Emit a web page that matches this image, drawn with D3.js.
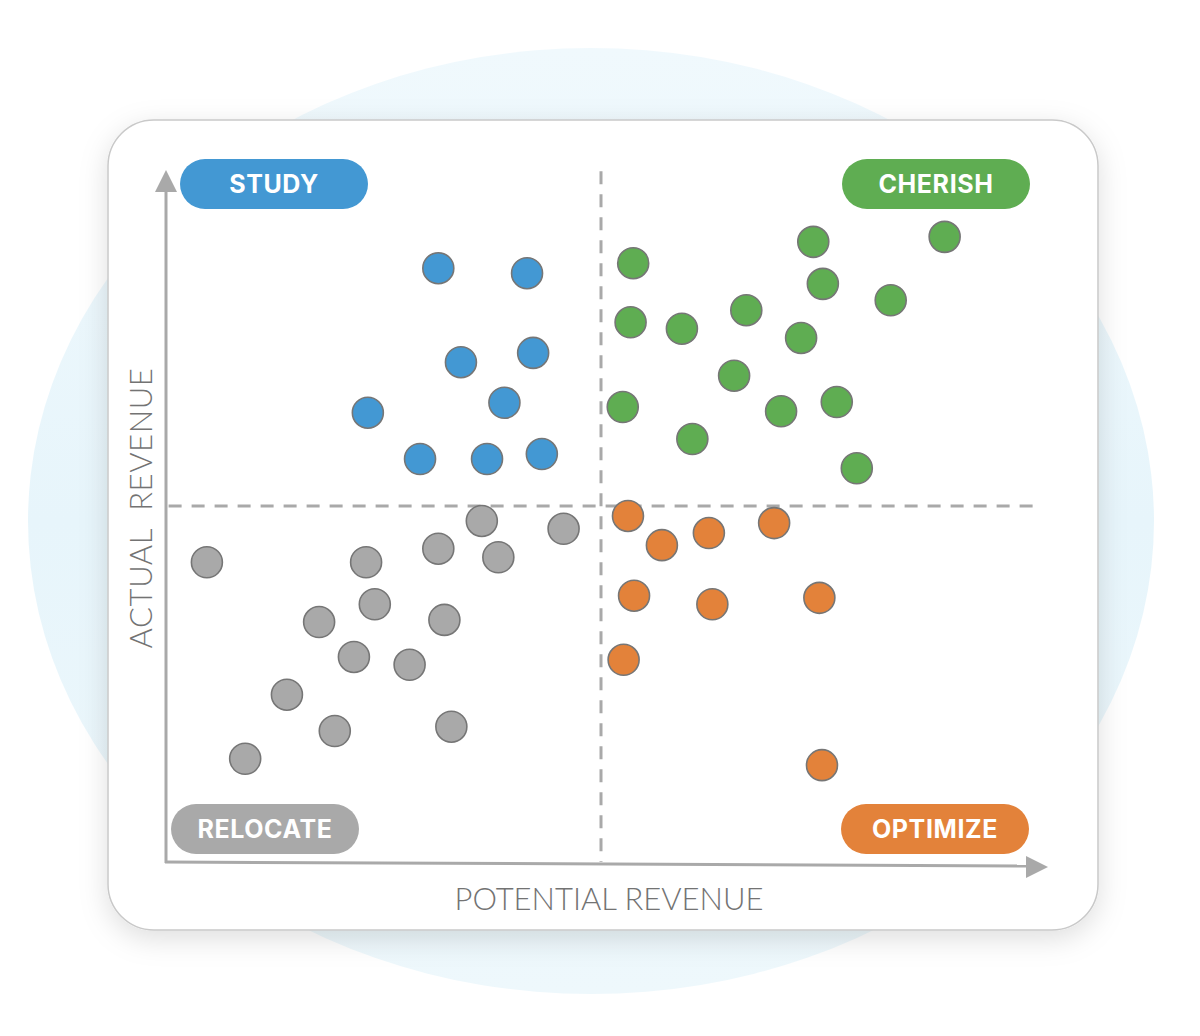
<!DOCTYPE html>
<html>
<head>
<meta charset="utf-8">
<script src="https://cdn.jsdelivr.net/npm/d3@7"></script>
<style>
  body { margin: 0; background: #fff; }
  svg { display: block; }
</style>
</head>
<body>
<div id="chart"></div>
<script>
// quadrant data (0-100 on both axes, 50 = divider)
var studyX   = [31.3, 41.5, 33.9, 42.2, 23.2, 38.9, 29.2, 36.9, 43.2];
var studyY   = [83.4, 82.7, 70.2, 71.5, 63.1, 64.5, 56.6, 56.6, 57.3];
var cherishX = [53.7, 74.4, 89.5, 75.5, 83.3, 53.4, 59.3, 66.7, 73.0, 65.3, 52.5, 70.7, 77.1, 60.5, 79.4];
var cherishY = [84.1, 87.1, 87.8, 81.2, 78.9, 75.8, 74.9, 77.5, 73.6, 68.3, 63.9, 63.3, 64.6, 59.4, 55.3];
var optimizeX = [53.1, 57.0, 62.4, 69.9, 53.8, 62.8, 75.1, 52.6, 75.4];
var optimizeY = [48.6, 44.5, 46.2, 47.6, 37.4, 36.2, 37.1, 28.4, 13.6];
var relocateX = [36.3, 45.7, 4.7, 23.0, 31.3, 38.2, 24.0, 17.6, 32.0, 21.6, 28.0, 13.9, 19.4, 32.8, 9.1];
var relocateY = [47.9, 46.8, 42.1, 42.1, 44.0, 42.8, 36.2, 33.7, 34.0, 28.8, 27.7, 23.5, 18.4, 19.0, 14.5];

var groups = ["STUDY", "CHERISH", "RELOCATE", "OPTIMIZE"];
var groupColors = ["#4398d3", "#5fad52", "#a9a9a9", "#e3823a"];
var xTitle = "POTENTIAL REVENUE";
var yTitle = "ACTUAL  REVENUE";

var width = 1200, height = 1036;

var svg = d3.select("#chart")
    .append("svg")
    .attr("width", width)
    .attr("height", height);

var defs = svg.append("defs");
var shadow = defs.append("filter").attr("id", "shadow")
    .attr("x", "-10%").attr("y", "-10%").attr("width", "120%").attr("height", "125%");
shadow.append("feDropShadow")
    .attr("dx", 0).attr("dy", 8)
    .attr("stdDeviation", 14)
    .attr("flood-color", "#000")
    .attr("flood-opacity", 0.13);

var bgGrad = defs.append("linearGradient").attr("id", "bgGrad")
    .attr("x1", 0).attr("y1", 0).attr("x2", 0).attr("y2", 1);
bgGrad.append("stop").attr("offset", "0%").attr("stop-color", "#f0f9fd");
bgGrad.append("stop").attr("offset", "50%").attr("stop-color", "#e7f5fb");
bgGrad.append("stop").attr("offset", "100%").attr("stop-color", "#eef8fc");

// background blob
svg.append("ellipse")
    .attr("cx", 591).attr("cy", 521)
    .attr("rx", 563).attr("ry", 473)
    .attr("fill", "url(#bgGrad)");

// card
svg.append("rect")
    .attr("x", 108).attr("y", 120)
    .attr("width", 990).attr("height", 810)
    .attr("rx", 46).attr("ry", 46)
    .attr("fill", "#fff")
    .attr("stroke", "#c9c9c9")
    .attr("stroke-width", 1.5)
    .attr("filter", "url(#shadow)");

// scales
var x = d3.scaleLinear().domain([0, 100]).range([166, 1036]);
var y = d3.scaleLinear().domain([0, 100]).range([862, 150]);

var axisColor = "#a9a9a9";

// dashed dividers
svg.append("line")
    .attr("x1", x(0.3)).attr("x2", x(100.5))
    .attr("y1", y(50)).attr("y2", y(50))
    .attr("stroke", axisColor).attr("stroke-width", 3)
    .attr("stroke-dasharray", "13,10");
svg.append("line")
    .attr("x1", x(50)).attr("x2", x(50))
    .attr("y1", y(97)).attr("y2", y(0))
    .attr("stroke", axisColor).attr("stroke-width", 3)
    .attr("stroke-dasharray", "13,10");

// axes as arrows
svg.append("line")
    .attr("x1", x(0)).attr("x2", x(0))
    .attr("y1", y(0) + 1).attr("y2", 185)
    .attr("stroke", axisColor).attr("stroke-width", 3);
svg.append("path")
    .attr("d", "M" + x(0) + ",170 L" + (x(0) - 11) + ",192 L" + (x(0) + 11) + ",192 Z")
    .attr("fill", axisColor);

svg.append("line")
    .attr("x1", x(0) - 1).attr("x2", 1030)
    .attr("y1", y(0)).attr("y2", y(0) + 4)
    .attr("stroke", axisColor).attr("stroke-width", 3);
svg.append("path")
    .attr("d", "M1048," + (y(0) + 5) + " L1026," + (y(0) - 6) + " L1026," + (y(0) + 16) + " Z")
    .attr("fill", axisColor);

// axis titles
svg.append("text")
    .attr("x", 609).attr("y", 910)
    .attr("text-anchor", "middle")
    .style("font-family", "Lato, 'Open Sans', sans-serif")
    .style("font-weight", 300)
    .style("font-size", "31px")
    .attr("fill", "#737373")
    .text(xTitle);

svg.append("text")
    .attr("transform", "translate(152,508) rotate(-90)")
    .attr("text-anchor", "middle")
    .style("font-family", "Lato, 'Open Sans', sans-serif")
    .style("font-weight", 300)
    .style("font-size", "31px")
    .style("letter-spacing", "0.6px")
    .style("white-space", "pre")
    .attr("fill", "#737373")
    .text(yTitle);

// dots
function drawDots(xs, ys, color) {
    svg.append("g")
        .selectAll("circle")
        .data(xs.map(function (d, i) { return [d, ys[i]]; }))
        .enter()
        .append("circle")
        .attr("cx", function (d) { return x(d[0]); })
        .attr("cy", function (d) { return y(d[1]); })
        .attr("r", 15.5)
        .attr("fill", color)
        .attr("stroke", "#767676")
        .attr("stroke-width", 1.6);
}
drawDots(relocateX, relocateY, groupColors[2]);
drawDots(studyX, studyY, groupColors[0]);
drawDots(cherishX, cherishY, groupColors[1]);
drawDots(optimizeX, optimizeY, groupColors[3]);

// quadrant pills
var pills = [
    { label: groups[0], x: 180, y: 159, color: groupColors[0] },
    { label: groups[1], x: 842, y: 159, color: groupColors[1] },
    { label: groups[2], x: 171, y: 804, color: groupColors[2] },
    { label: groups[3], x: 841, y: 804, color: groupColors[3] }
];
var pill = svg.append("g").selectAll("g")
    .data(pills)
    .enter()
    .append("g")
    .attr("transform", function (d) { return "translate(" + d.x + "," + d.y + ")"; });
pill.append("rect")
    .attr("width", 188).attr("height", 50)
    .attr("rx", 25).attr("ry", 25)
    .attr("fill", function (d) { return d.color; });
pill.append("text")
    .attr("x", 94).attr("y", 34)
    .attr("text-anchor", "middle")
    .style("font-family", "Inter, Roboto, sans-serif")
    .style("font-weight", 700)
    .style("font-size", "25px")
    .style("letter-spacing", "0.6px")
    .attr("fill", "#fff")
    .text(function (d) { return d.label; });
</script>
</body>
</html>
